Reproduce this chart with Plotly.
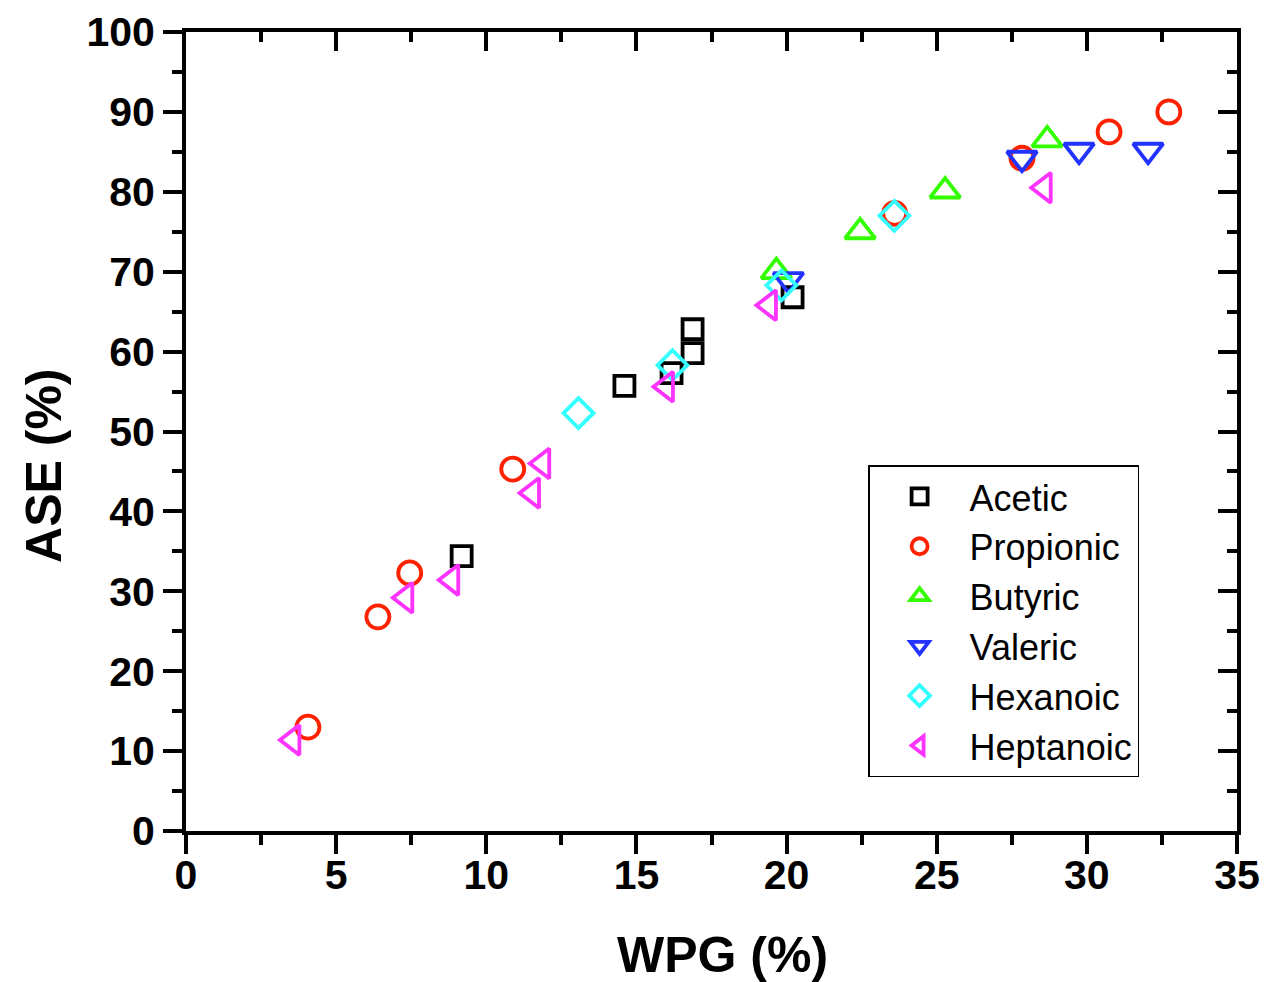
import plotly.graph_objects as go

# Data
acetic_x = [9.18, 14.6, 16.17, 16.87, 16.87, 20.2]
acetic_y = [34.4, 55.7, 57.3, 59.8, 62.8, 66.8]

propionic_x = [4.06, 6.39, 7.45, 10.88, 23.6, 27.84, 30.74, 32.73]
propionic_y = [13.0, 26.8, 32.3, 45.3, 77.3, 84.2, 87.5, 90.0]

butyric_x = [19.66, 22.45, 25.28, 28.68]
butyric_y = [70.0, 75.0, 80.1, 86.5]

valeric_x = [20.06, 27.84, 29.74, 32.04]
valeric_y = [69.0, 84.2, 85.2, 85.2]

hexanoic_x = [13.07, 16.2, 19.83, 23.59]
hexanoic_y = [52.3, 58.3, 68.3, 77.0]

heptanoic_x = [3.56, 7.32, 8.85, 11.54, 11.88, 16.0, 19.43, 28.58]
heptanoic_y = [11.4, 29.2, 31.4, 42.3, 46.0, 55.6, 65.8, 80.5]

x_range = [0, 35]
y_range = [0, 100]
x_title = "WPG (%)"
y_title = "ASE (%)"

series = [
    ("Acetic", acetic_x, acetic_y, "square-open", "#000000", 20),
    ("Propionic", propionic_x, propionic_y, "circle-open", "#FF2200", 23),
    ("Butyric", butyric_x, butyric_y, "triangle-up-open", "#33FF00", 26),
    ("Valeric", valeric_x, valeric_y, "triangle-down-open", "#2233FF", 26),
    ("Hexanoic", hexanoic_x, hexanoic_y, "diamond-open", "#33FFFF", 23),
    ("Heptanoic", heptanoic_x, heptanoic_y, "triangle-left-open", "#FF33FF", 26),
]

fig = go.Figure()
for name, xs, ys, sym, col, sz in series:
    fig.add_trace(go.Scatter(
        x=xs, y=ys, mode="markers", name=name,
        marker=dict(symbol=sym, size=sz, color=col,
                    line=dict(color=col, width=3.8)),
    ))

# dummy trace so the mirrored (inside-tick) axes are drawn
fig.add_trace(go.Scatter(x=[], y=[], xaxis="x2", yaxis="y2",
                         showlegend=False, hoverinfo="skip"))

tickfont = dict(family="Liberation Sans, Arial", size=41, color="black", weight="bold")

common = dict(showgrid=False, zeroline=False, showline=True, linecolor="black",
              linewidth=4, tickcolor="black", tickwidth=3.5, automargin=False)

fig.update_layout(
    width=1260, height=974,
    paper_bgcolor="white", plot_bgcolor="white",
    margin=dict(l=178, r=31, t=24, b=151),
    xaxis=dict(range=x_range, dtick=5, ticks="outside", ticklen=19,
               tickfont=tickfont, ticklabelstandoff=-14,
               minor=dict(dtick=2.5, ticks="outside", ticklen=10,
                          tickwidth=3.5, tickcolor="black"),
               **common),
    yaxis=dict(range=y_range, dtick=10, ticks="outside", ticklen=19,
               tickfont=tickfont,
               minor=dict(dtick=5, ticks="outside", ticklen=10,
                          tickwidth=3.5, tickcolor="black"),
               **common),
    xaxis2=dict(range=x_range, dtick=5, overlaying="x", side="top",
                ticks="inside", ticklen=19, showticklabels=False,
                minor=dict(dtick=2.5, ticks="inside", ticklen=10,
                           tickwidth=3.5, tickcolor="black"),
                **common),
    yaxis2=dict(range=y_range, dtick=10, overlaying="y", side="right",
                ticks="inside", ticklen=19, showticklabels=False,
                minor=dict(dtick=5, ticks="inside", ticklen=10,
                           tickwidth=3.5, tickcolor="black"),
                **common),
    legend=dict(x=0.649, y=0.458, xanchor="left", yanchor="top",
                bgcolor="white", bordercolor="black", borderwidth=1.5,
                font=dict(family="Liberation Sans, Arial", size=36, color="black"),
                itemwidth=90, tracegroupgap=0),
    showlegend=True,
    annotations=[
        dict(text=x_title, xref="paper", yref="paper", x=0.51, y=-0.155,
             xanchor="center", yanchor="middle", showarrow=False,
             font=dict(family="Liberation Sans, Arial", size=50, color="black", weight="bold")),
        dict(text=y_title, xref="paper", yref="paper", x=-0.135, y=0.457,
             xanchor="center", yanchor="middle", showarrow=False, textangle=-90,
             font=dict(family="Liberation Sans, Arial", size=50, color="black", weight="bold")),
    ],
)

fig.write_html("out.html")
